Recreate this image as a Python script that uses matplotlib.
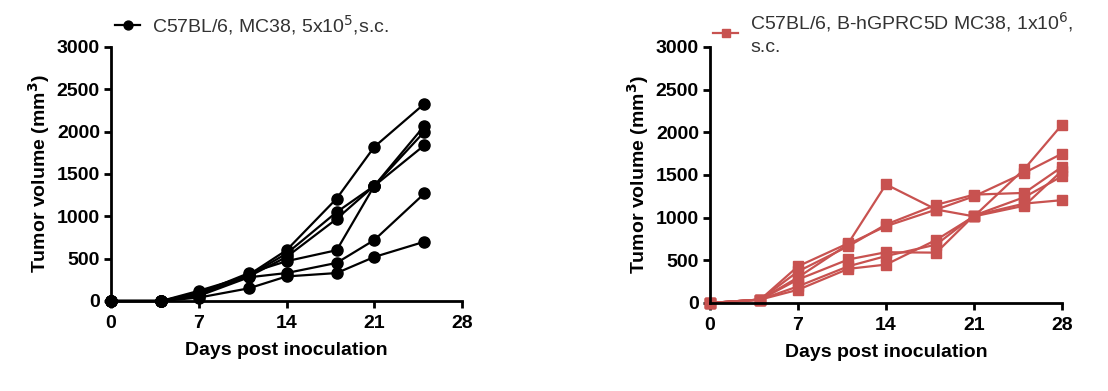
import numpy as np
import matplotlib.pyplot as plt

plt.rcParams['font.family'] = ['Liberation Sans', 'DejaVu Sans']

# === DATA ===
days_left = [0, 4, 7, 11, 14, 18, 21, 25]
mice_left = [
    [0, 0, 100, 310, 600, 1210, 1820, 2330],
    [0, 0, 120, 300, 560, 1050, 1360, 2070],
    [0, 0, 90, 330, 470, 600, 1360, 2000],
    [0, 0, 80, 290, 520, 970, 1360, 1840],
    [0, 0, 60, 280, 330, 450, 720, 1270],
    [0, 0, 40, 150, 290, 330, 520, 700],
]
label_left = "C57BL/6, MC38, 5x10$^{5}$,s.c."

days_right = [0, 4, 7, 11, 14, 18, 21, 25, 28]
mice_right = [
    [0, 40, 430, 700, 1390, 1095, 1015, 1570, 2090],
    [0, 40, 370, 665, 920, 1150, 1270, 1290, 1595],
    [0, 40, 300, 690, 900, 1095, 1250, 1525, 1750],
    [0, 40, 275, 510, 595, 590, 1025, 1165, 1205],
    [0, 40, 195, 430, 550, 685, 1025, 1240, 1485],
    [0, 40, 155, 400, 450, 740, 1015, 1140, 1550],
]
label_right = "C57BL/6, B-hGPRC5D MC38, 1x10$^{6}$,\ns.c."

xticks = [0, 7, 14, 21, 28]
yticks = [0, 500, 1000, 1500, 2000, 2500, 3000]

RED = '#C85250'
TXT = '#333333'

fig = plt.figure(figsize=(11.08, 3.91), dpi=100)
ax1 = fig.add_axes([0.1002, 0.2302, 0.3168, 0.6496])
ax2 = fig.add_axes([0.6408, 0.2251, 0.3177, 0.6547])


def style(ax):
    ax.set_xlim(0, 28)
    ax.set_ylim(0, 3000)
    ax.set_xticks(xticks)
    ax.set_yticks(yticks)
    for s in ['top', 'right']:
        ax.spines[s].set_visible(False)
    for s in ['left', 'bottom']:
        ax.spines[s].set_linewidth(2)
    ax.tick_params(width=2, length=5, labelsize=14, pad=3)
    ax.tick_params(axis='x', pad=5)
    for t in ax.get_xticklabels() + ax.get_yticklabels():
        t.set_fontweight('bold')
    ax.set_xlabel("Days post inoculation", fontsize=14, fontweight='bold', labelpad=7)
    ax.set_ylabel("Tumor volume (mm$^\\mathbf{3}$)", fontsize=14, fontweight='bold', labelpad=3)


for i, m in enumerate(mice_left):
    ax1.plot(days_left, m, '-o', color='black', lw=1.6, ms=8, clip_on=False,
             label=label_left if i == 0 else None)
for i, m in enumerate(mice_right):
    ax2.plot(days_right, m, '-s', color=RED, lw=1.6, ms=7.5, clip_on=False,
             label=label_right if i == 0 else None)

style(ax1)
style(ax2)

leg1 = fig.legend(handles=ax1.get_lines()[:1], loc='center left',
                  bbox_to_anchor=(115 / 1108, 1 - 25 / 391), frameon=False,
                  fontsize=14, handlelength=1.3, handletextpad=0.6,
                  borderpad=0, borderaxespad=0, markerscale=0.8)
leg2 = fig.legend(handles=ax2.get_lines()[:1], loc='center left',
                  bbox_to_anchor=(713 / 1108, 1 - 33 / 391), frameon=False,
                  fontsize=14, handlelength=1.3, handletextpad=0.6,
                  borderpad=0, borderaxespad=0, markerscale=0.8)
for leg in (leg1, leg2):
    for t in leg.get_texts():
        t.set_color(TXT)
        t.set_linespacing(1.35)

fig.savefig('out.png', dpi=100)
